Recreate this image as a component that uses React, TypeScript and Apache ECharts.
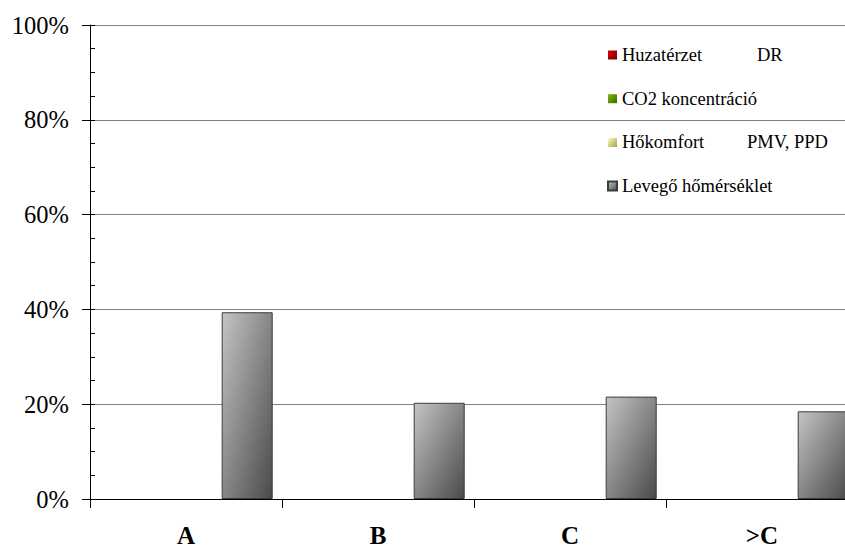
import React, { useEffect, useRef } from "react";
import * as echarts from "echarts";

// Categories and series values (percent)
const categories = ["A", "B", "C", ">C"];
const seriesNames = ["Huzatérzet", "CO2 koncentráció", "Hőkomfort", "Levegő hőmérséklet"];
const legendSuffix = ["DR", "", "PMV, PPD", ""];
const huzatErzet = [0, 0, 0, 0];
const co2Koncentracio = [0, 0, 0, 0];
const hoKomfort = [0, 0, 0, 0];
const levegoHomerseklet = [39.4, 20.3, 21.6, 18.5];
const yTicks = [0, 20, 40, 60, 80, 100];

const FONT = "Liberation Serif";

const grad = (c0: string, c1: string) =>
  new echarts.graphic.LinearGradient(0, 0, 1, 1, [
    { offset: 0, color: c0 },
    { offset: 1, color: c1 },
  ]);

export default function App() {
  const ref = useRef<HTMLDivElement>(null);

  useEffect(() => {
    if (!ref.current) return;
    const chart = echarts.init(ref.current, undefined, { renderer: "svg" });

    const colors = [
      grad("#e00000", "#700000"),
      grad("#7fbf00", "#3a6600"),
      grad("#ffffcc", "#a0a040"),
      grad("#c4c4c4", "#4a4a4a"),
    ];
    const values = [huzatErzet, co2Koncentracio, hoKomfort, levegoHomerseklet];

    const txt = { fontFamily: FONT, fontSize: 18.5, lineHeight: 20, color: "#000" };

    chart.setOption({
      animation: false,
      backgroundColor: "#ffffff",
      textStyle: { fontFamily: FONT },
      // plot area runs past the right edge of the visible frame
      grid: { left: 90, top: 25, width: 768, height: 476, containLabel: false },
      legend: {
        orient: "vertical",
        left: 602,
        top: 40,
        itemWidth: 9,
        itemHeight: 9,
        itemGap: 23.7,
        icon: "rect",
        data: seriesNames,
        formatter: (name: string) => {
          const i = seriesNames.indexOf(name);
          const suf = legendSuffix[i];
          if (!suf) return `{t|${name}}`;
          return `{${i === 0 ? "a" : "b"}|${name}}{t|${suf}}`;
        },
        textStyle: {
          ...txt,
          rich: {
            a: { ...txt, width: 135 },
            b: { ...txt, width: 125 },
            t: { ...txt },
          },
        },
      },
      xAxis: {
        type: "category",
        data: categories,
        axisLine: { lineStyle: { color: "#000", width: 1 } },
        axisTick: { show: true, length: 9, lineStyle: { color: "#000" } },
        axisLabel: {
          margin: 24,
          fontFamily: FONT,
          fontSize: 25,
          fontWeight: "bold",
          color: "#000",
        },
      },
      yAxis: [
        {
          type: "value",
          min: yTicks[0],
          max: yTicks[yTicks.length - 1],
          interval: 20,
          axisLine: { show: true, lineStyle: { color: "#000", width: 1 } },
          axisTick: { show: true, length: 8, lineStyle: { color: "#000" } },
          axisLabel: {
            margin: 21,
            formatter: "{value}%",
            fontFamily: FONT,
            fontSize: 24.5,
            color: "#000",
          },
          splitLine: { show: true, lineStyle: { color: "#808080", width: 1 } },
        },
        {
          // minor ticks pointing into the plot area
          type: "value",
          position: "left",
          min: 0,
          max: 100,
          interval: 5,
          axisLine: { show: false },
          axisTick: { show: true, inside: true, length: 5, lineStyle: { color: "#000" } },
          axisLabel: { show: false },
          splitLine: { show: false },
        },
      ],
      series: seriesNames.map((name, i) => ({
        name,
        type: "bar",
        yAxisIndex: 0,
        data: values[i],
        barWidth: 51,
        barGap: "-20%",
        itemStyle: {
          color: colors[i],
          borderColor: i === 3 ? "#3c3c3c" : "transparent",
          borderWidth: i === 3 ? 1 : 0,
        },
      })),
    });

    return () => chart.dispose();
  }, []);

  return (
    <div
      style={{
        position: "absolute",
        left: 0,
        top: 0,
        width: 845,
        height: 548,
        overflow: "hidden",
        background: "#fff",
      }}
    >
      <div ref={ref} style={{ width: 870, height: 548 }} />
    </div>
  );
}
